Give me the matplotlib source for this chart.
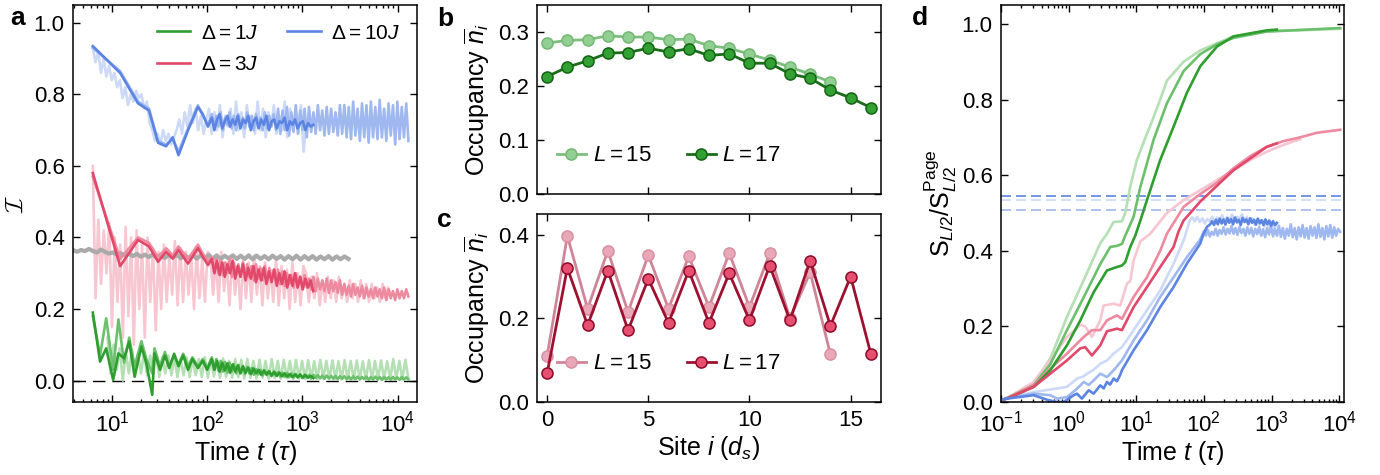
import numpy as np
import matplotlib
matplotlib.use('Agg')
import matplotlib.pyplot as plt
from matplotlib.ticker import LogLocator, NullFormatter, FormatStrFormatter

plt.rcParams['font.family'] = ['Liberation Sans', 'DejaVu Sans']
plt.rcParams['mathtext.fontset'] = 'custom'
plt.rcParams['mathtext.rm'] = 'Liberation Sans'
plt.rcParams['mathtext.it'] = 'Liberation Sans:italic'
plt.rcParams['mathtext.bf'] = 'Liberation Sans:bold'
plt.rcParams['mathtext.cal'] = 'cmsy10'
plt.rcParams['axes.linewidth'] = 1.1

# ---------------- panel a : imbalance vs time ----------------
t_early = [6.3, 12.2, 18.8, 24.5, 30.5, 37, 43.5, 50, 63, 80, 90, 102]
t_early_g = [6.3, 7.5, 8.7, 10.3, 11.7, 13.4, 15.2, 17.3, 20.4, 23, 26.5, 28,
             32, 36, 40, 45, 50, 56, 63, 70, 80, 90, 100]

blue_dark_early = [0.935, 0.86, 0.775, 0.755, 0.665, 0.655, 0.68, 0.63, 0.70, 0.765, 0.745, 0.71]
blue_dark_late = [0.735, 0.70, 0.73, 0.745, 0.705, 0.725, 0.74, 0.71, 0.73, 0.715, 0.74, 0.705,
                  0.73, 0.72, 0.74, 0.70, 0.725, 0.735, 0.705, 0.73, 0.715, 0.74, 0.70, 0.725,
                  0.73, 0.705, 0.725, 0.72, 0.735, 0.70, 0.725, 0.715, 0.73, 0.705, 0.72, 0.725,
                  0.70, 0.72, 0.71, 0.715]
blue_mid_early = [0.93, 0.865, 0.78, 0.76, 0.67, 0.66, 0.675, 0.64, 0.705, 0.77, 0.74, 0.715]
blue_mid_late = [0.745, 0.705, 0.74, 0.71, 0.75, 0.70, 0.735, 0.715, 0.75, 0.705, 0.74, 0.70,
                 0.745, 0.71, 0.735, 0.705, 0.75, 0.71, 0.74, 0.70, 0.745, 0.715, 0.735, 0.70,
                 0.75, 0.705, 0.74, 0.71, 0.745, 0.70,
                 0.76, 0.69, 0.755, 0.70, 0.765, 0.685, 0.75, 0.695, 0.77, 0.69, 0.755, 0.70,
                 0.76, 0.68, 0.765, 0.695, 0.75, 0.69, 0.77, 0.70, 0.755, 0.685, 0.765, 0.69,
                 0.76, 0.695, 0.75, 0.685, 0.77, 0.69,
                 0.77, 0.68, 0.765, 0.675, 0.78, 0.685, 0.76, 0.67, 0.775, 0.68, 0.77, 0.665,
                 0.78, 0.68, 0.765, 0.675, 0.785, 0.68, 0.76, 0.67, 0.775, 0.685, 0.77, 0.66,
                 0.78, 0.675, 0.765, 0.68, 0.775, 0.67]
blue_pale = [0.93, 0.89, 0.92, 0.86, 0.90, 0.85, 0.88, 0.84, 0.86, 0.82,
             0.84, 0.79, 0.82, 0.77, 0.80, 0.78, 0.81, 0.79,
             0.80, 0.76, 0.78, 0.72, 0.70, 0.67,
             0.69, 0.66, 0.70, 0.67, 0.69, 0.66, 0.68, 0.70,
             0.73, 0.69, 0.75, 0.71, 0.77, 0.72, 0.76, 0.70, 0.74, 0.69, 0.73,
             0.76, 0.69, 0.75, 0.70, 0.77, 0.68, 0.74, 0.71, 0.76, 0.69, 0.78, 0.70,
             0.75, 0.68, 0.77, 0.71, 0.74, 0.69, 0.78, 0.70, 0.76, 0.68, 0.75, 0.71,
             0.77, 0.69, 0.74, 0.70, 0.78, 0.68, 0.76, 0.70, 0.75, 0.69, 0.77, 0.64, 0.72]

red_dark_early = [0.58, 0.32, 0.393, 0.375, 0.332, 0.36, 0.341, 0.365, 0.327, 0.37, 0.346, 0.323]
red_dark_late = [0.34, 0.30, 0.335, 0.295, 0.33, 0.29, 0.325, 0.30, 0.335, 0.285, 0.32, 0.29,
                 0.325, 0.28, 0.315, 0.285, 0.32, 0.275, 0.31, 0.28, 0.315, 0.27, 0.305, 0.275,
                 0.31, 0.265, 0.30, 0.27, 0.305, 0.26, 0.295, 0.265, 0.30, 0.26, 0.29, 0.255,
                 0.285, 0.26, 0.28, 0.25]
red_mid_early = [0.57, 0.34, 0.40, 0.385, 0.345, 0.37, 0.35, 0.375, 0.34, 0.38, 0.355, 0.335]
red_mid_late = [0.345, 0.305, 0.34, 0.30, 0.335, 0.295, 0.33, 0.30, 0.34, 0.29, 0.33, 0.295,
                0.325, 0.29, 0.33, 0.285, 0.325, 0.29, 0.32, 0.28, 0.325, 0.285, 0.315, 0.28,
                0.32, 0.275, 0.315, 0.28, 0.31, 0.275,
                0.31, 0.27, 0.305, 0.265, 0.30, 0.27, 0.295, 0.26, 0.30, 0.265, 0.29, 0.255,
                0.295, 0.26, 0.285, 0.255, 0.29, 0.25, 0.285, 0.255, 0.28, 0.25, 0.285, 0.245,
                0.28, 0.25, 0.275, 0.245, 0.28, 0.24,
                0.27, 0.24, 0.265, 0.235, 0.27, 0.24, 0.26, 0.235, 0.265, 0.23, 0.26, 0.235,
                0.255, 0.23, 0.26, 0.235, 0.255, 0.23, 0.26, 0.225, 0.255, 0.23, 0.25, 0.225,
                0.255, 0.23, 0.25, 0.23, 0.255, 0.235]
red_pale = [0.60, 0.23, 0.45, 0.27, 0.42, 0.30, 0.44, 0.15, 0.40, 0.22,
            0.38, 0.12, 0.43, 0.18, 0.40, 0.10, 0.42, 0.20,
            0.38, 0.12, 0.40, 0.22, 0.37, 0.14,
            0.36, 0.20, 0.38, 0.22, 0.35, 0.24, 0.39, 0.21,
            0.37, 0.22, 0.36, 0.24, 0.35, 0.20, 0.37, 0.23, 0.34, 0.22, 0.36,
            0.35, 0.24, 0.34, 0.22, 0.36, 0.25, 0.33, 0.21, 0.35, 0.24, 0.32, 0.20,
            0.34, 0.23, 0.33, 0.22, 0.35, 0.24, 0.32, 0.21, 0.33, 0.23, 0.31, 0.22,
            0.34, 0.21, 0.32, 0.23, 0.31, 0.20, 0.33, 0.22, 0.30, 0.21, 0.32,
            0.30, 0.22, 0.29, 0.23, 0.30, 0.21, 0.28, 0.22, 0.29, 0.23, 0.28, 0.22,
            0.29, 0.23, 0.27, 0.22, 0.28, 0.23, 0.27, 0.22, 0.28, 0.23, 0.27, 0.22,
            0.27, 0.23, 0.26, 0.22, 0.27, 0.23, 0.26, 0.24]

gray_vals = [0.365, 0.36, 0.365, 0.362, 0.368, 0.362, 0.358, 0.366, 0.36, 0.355, 0.358, 0.352,
             0.356, 0.35, 0.355, 0.348, 0.354, 0.346, 0.352, 0.345, 0.353, 0.344, 0.352, 0.343,
             0.351, 0.344, 0.352, 0.342, 0.35, 0.343, 0.351, 0.341, 0.35, 0.342, 0.351, 0.341,
             0.35, 0.34, 0.349, 0.341, 0.35, 0.34, 0.349, 0.34, 0.35, 0.339, 0.349, 0.34,
             0.348, 0.339, 0.349, 0.34, 0.348, 0.338, 0.348, 0.339, 0.349, 0.338, 0.348, 0.339,
             0.348, 0.338, 0.347, 0.339, 0.348, 0.338, 0.347, 0.339, 0.347, 0.34]

green_dark_early = [0.19, 0.053, 0.09, 0.002, 0.076, 0.062, 0.109, 0.011, 0.095, 0.048, -0.04, 0.076,
                    0.03, 0.07, 0.035, 0.075, 0.04, 0.07, 0.03, 0.06, 0.035, 0.055, 0.03]
green_dark_late = [0.06, 0.03, 0.055, 0.025, 0.05, 0.028, 0.048, 0.022, 0.045, 0.025, 0.042, 0.02,
                   0.04, 0.022, 0.036, 0.018, 0.034, 0.02, 0.03, 0.016, 0.028, 0.017, 0.026, 0.014,
                   0.024, 0.013, 0.022, 0.012, 0.02, 0.011, 0.018, 0.01, 0.017, 0.009, 0.016, 0.008,
                   0.015, 0.008, 0.013, 0.007]
green_mid_early = [0.18, 0.07, 0.174, 0.03, 0.171, 0.05, 0.12, 0.04, 0.11, 0.06, 0.02, 0.09,
                   0.04, 0.08, 0.04, 0.07, 0.045, 0.075, 0.04, 0.065, 0.04, 0.06, 0.035]
green_mid_late = [0.065, 0.03, 0.06, 0.028, 0.055, 0.025, 0.052, 0.022, 0.05, 0.025, 0.046, 0.02,
                  0.044, 0.022, 0.04, 0.018, 0.038, 0.02, 0.035, 0.016, 0.032, 0.017, 0.03, 0.014,
                  0.028, 0.015, 0.026, 0.012, 0.025, 0.013,
                  0.024, 0.011, 0.022, 0.01, 0.021, 0.009, 0.02, 0.008, 0.019, 0.009, 0.018, 0.007,
                  0.017, 0.008, 0.016, 0.006, 0.016, 0.007, 0.015, 0.006, 0.014, 0.005, 0.014, 0.006,
                  0.013, 0.005, 0.013, 0.004, 0.012, 0.005,
                  0.012, 0.004, 0.011, 0.003, 0.012, 0.004, 0.011, 0.003, 0.01, 0.004, 0.011, 0.002,
                  0.01, 0.003, 0.011, 0.003, 0.01, 0.002, 0.01, 0.003, 0.009, 0.002, 0.01, 0.003,
                  0.009, 0.002, 0.01, 0.003, 0.009, 0.003]
green_pale = [0.12, 0.02, 0.10, 0.03, 0.09, 0.0, 0.08, 0.02, 0.085, 0.01, 0.075, 0.02, 0.08, 0.015,
              0.07, 0.02, 0.075, 0.01, 0.065, 0.02, 0.07, 0.015, 0.065, 0.01, 0.06, 0.015, 0.065,
              0.01, 0.06, 0.015, 0.06, 0.01, 0.065, 0.008, 0.06, 0.012, 0.058, 0.008, 0.062, 0.01,
              0.055, 0.008, 0.06, 0.01, 0.058, 0.006, 0.06, 0.008, 0.055, 0.006, 0.058, 0.008,
              0.055, 0.005, 0.06, 0.007, 0.055, 0.005, 0.058, 0.006, 0.055, 0.004, 0.058, 0.006,
              0.055, 0.004, 0.057, 0.005, 0.054, 0.004, 0.058, 0.005, 0.055, 0.004, 0.056, 0.005,
              0.054, 0.003, 0.057, 0.004, 0.055, 0.003, 0.056, 0.004, 0.054, 0.003, 0.057, 0.004,
              0.055, 0.003, 0.056, 0.004, 0.054, 0.003, 0.06, 0.004, 0.055, 0.003, 0.058, 0.005]

# ---------------- panels b, c : site occupancies ----------------
occ_b_L15 = [0.2795, 0.2845, 0.2857, 0.293, 0.2907, 0.2907, 0.2857, 0.287, 0.2745, 0.270,
             0.259, 0.248, 0.235, 0.222, 0.2075]
occ_b_L17 = [0.2174, 0.235, 0.2466, 0.261, 0.262, 0.270, 0.263, 0.269, 0.2565, 0.2596, 0.2422,
             0.2422, 0.2224, 0.2143, 0.1925, 0.178, 0.160]
occ_c_L15 = [0.110, 0.3976, 0.2234, 0.362, 0.2154, 0.3517, 0.2234, 0.3485, 0.2273, 0.3564,
             0.2273, 0.3556, 0.200, 0.3105, 0.114]
occ_c_L17 = [0.0689, 0.3208, 0.1838, 0.3145, 0.1719, 0.2947, 0.1893, 0.3145, 0.1893, 0.3081,
             0.1956, 0.3263, 0.1956, 0.3382, 0.1822, 0.3002, 0.1149]

# ---------------- panel d : half-chain entropy ----------------
d_green_dark_t = [0.1, 0.123, 0.304, 0.536, 0.945, 1.49, 2.34, 3.69, 5.18, 6.14, 6.88, 8.15, 9.67,
                  11.5, 14.4, 22.6, 35.6, 56.1, 88.3, 156, 274, 853, 1200]
d_green_dark = [0.005, 0.009, 0.04, 0.084, 0.15, 0.216, 0.29, 0.348, 0.357, 0.361, 0.37, 0.41, 0.44,
                0.48, 0.534, 0.64, 0.728, 0.818, 0.888, 0.94, 0.967, 0.983, 0.985]
d_green_mid_t = [0.1, 0.123, 0.304, 0.536, 0.945, 1.67, 2.94, 4.13, 5.18, 6.14, 6.88, 9.14, 11.5,
                 18.0, 28.4, 50.1, 88.3, 156, 274, 853, 10350]
d_green_mid = [0.005, 0.01, 0.045, 0.1, 0.19, 0.277, 0.365, 0.41, 0.413, 0.418, 0.44, 0.49, 0.569,
               0.693, 0.79, 0.875, 0.92, 0.946, 0.963, 0.98, 0.989]
d_green_pale_t = [0.1, 0.123, 0.304, 0.536, 0.945, 1.67, 2.94, 3.69, 4.63, 6.14, 6.88, 8.15, 10.2,
                  14.4, 16.1, 22.6, 28.4, 50.1, 88.3, 274, 853, 10350]
d_green_pale = [0.005, 0.01, 0.05, 0.115, 0.225, 0.322, 0.42, 0.445, 0.476, 0.478, 0.5, 0.57, 0.64,
                0.71, 0.73, 0.8, 0.85, 0.90, 0.93, 0.967, 0.98, 0.987]

d_red_dark_t = [0.1, 0.123, 0.304, 0.536, 0.945, 1.49, 1.76, 2.21, 2.94, 3.69, 5.18, 6.14, 9.14,
                14.4, 22.6, 35.6, 42, 50.1, 62.9, 88.3, 124, 174, 274, 484, 853, 1200]
d_red_dark = [0.005, 0.009, 0.04, 0.075, 0.11, 0.142, 0.145, 0.123, 0.15, 0.187, 0.194, 0.19, 0.251,
              0.304, 0.357, 0.41, 0.45, 0.48, 0.50, 0.53, 0.555, 0.58, 0.613, 0.644, 0.675, 0.684]
d_red_mid_t = [0.1, 0.123, 0.304, 0.536, 0.945, 1.67, 2.21, 2.94, 3.69, 5.18, 6.14, 9.14, 14.4,
               22.6, 28.4, 50.1, 88.3, 156, 274, 484, 853, 1500, 2650, 4680, 10350]
d_red_mid = [0.005, 0.01, 0.045, 0.088, 0.128, 0.172, 0.19, 0.19, 0.216, 0.229, 0.22, 0.278, 0.33,
             0.40, 0.445, 0.516, 0.55, 0.58, 0.618, 0.65, 0.675, 0.69, 0.70, 0.712, 0.72]
d_red_pale_t = [0.1, 0.123, 0.304, 0.536, 0.945, 1.49, 1.76, 2.21, 2.94, 3.29, 4.63, 5.80, 7.28,
                8.15, 9.14, 11.5, 16.1, 28.4, 50.1, 88.3, 156, 274, 484, 853, 1500, 2650]
d_red_pale = [0.005, 0.01, 0.053, 0.11, 0.172, 0.204, 0.2, 0.172, 0.216, 0.255, 0.26, 0.255, 0.313,
              0.32, 0.375, 0.425, 0.445, 0.5, 0.534, 0.56, 0.587, 0.613, 0.64, 0.662, 0.68, 0.695]

d_blue_dark_t = [0.1, 0.123, 0.304, 0.479, 0.673, 0.844, 1.19, 1.33, 1.57, 1.98, 2.34, 2.94, 3.3,
                 3.69, 4.1, 4.63, 5.18, 5.8, 6.14, 9.14, 14.4, 22.6, 35.6, 56.1, 88.3, 98.9, 111]
d_blue_dark = [0.005, 0.009, 0.018, 0.006, 0.0, 0.0, 0.018, 0.022, 0.009, 0.031, 0.022, 0.044, 0.036,
               0.053, 0.046, 0.062, 0.055, 0.072, 0.084, 0.137, 0.19, 0.251, 0.304, 0.366, 0.419,
               0.445, 0.463]
d_blue_dark_late = [0.47, 0.478, 0.468, 0.482, 0.47, 0.485, 0.472, 0.483, 0.469, 0.486, 0.474, 0.484,
                    0.47, 0.488, 0.475, 0.482, 0.468, 0.487, 0.476, 0.483, 0.47, 0.486, 0.474, 0.482,
                    0.469, 0.485, 0.473, 0.481, 0.468, 0.483, 0.47, 0.48, 0.466, 0.478, 0.468, 0.474]
d_blue_mid_t = [0.1, 0.123, 0.304, 0.536, 0.673, 0.945, 1.33, 1.67, 1.98, 2.34, 2.94, 3.69, 4.63,
                6.14, 9.14, 14.4, 22.6, 35.6, 56.1, 88.3]
d_blue_mid = [0.005, 0.01, 0.022, 0.018, 0.009, 0.013, 0.035, 0.053, 0.045, 0.057, 0.075, 0.066,
              0.084, 0.11, 0.163, 0.216, 0.278, 0.33, 0.383, 0.43]
d_blue_mid_late = [0.452, 0.44, 0.455, 0.438, 0.45, 0.442, 0.458, 0.44, 0.455, 0.445, 0.462, 0.443,
                   0.458, 0.446, 0.465, 0.445, 0.46, 0.442, 0.463, 0.447, 0.458, 0.44, 0.462, 0.445,
                   0.46, 0.438, 0.458, 0.444, 0.462, 0.44, 0.457, 0.436, 0.46, 0.443, 0.465, 0.438,
                   0.458, 0.44, 0.466, 0.437, 0.46, 0.432, 0.458, 0.44, 0.47, 0.436, 0.46, 0.43,
                   0.462, 0.438, 0.468, 0.435, 0.46, 0.432, 0.465, 0.44, 0.462, 0.434, 0.47, 0.437,
                   0.46, 0.43, 0.465, 0.438, 0.468, 0.435, 0.462, 0.44, 0.458, 0.45]
d_blue_pale_t = [0.1, 0.123, 0.304, 0.536, 0.945, 1.33, 1.67, 1.87, 2.34, 2.94, 3.69, 4.63, 6.14,
                 9.14, 14.4, 22.6, 35.6, 50.1]
d_blue_pale = [0.005, 0.012, 0.026, 0.033, 0.04, 0.062, 0.068, 0.075, 0.085, 0.101, 0.11, 0.128,
               0.145, 0.19, 0.243, 0.295, 0.366, 0.427]
d_blue_pale_late = [0.48, 0.488, 0.478, 0.49, 0.476, 0.486, 0.472, 0.484, 0.478, 0.49, 0.475, 0.488,
                    0.48, 0.494, 0.476, 0.49, 0.482, 0.496, 0.478, 0.49, 0.484, 0.497, 0.478, 0.49,
                    0.474, 0.486, 0.47, 0.482, 0.468, 0.48, 0.464, 0.478, 0.462, 0.476, 0.46, 0.47]
page_levels = [0.544, 0.533, 0.509]

# colours
G = ['#2e9e2e', '#6cc06c', '#b4e0b4']
R = ['#e2486a', '#ee8aa0', '#f7c6d1']
B = ['#5b84e3', '#a0b8f0', '#ccdaf7']
GRAY = '#aaaaaa'


def grid(t_head, t0, t1, tail):
    return np.concatenate([t_head, np.geomspace(t0, t1, len(tail))])


def style(ax, logx=False):
    ax.tick_params(which='both', direction='in', top=True, right=True, labelsize=16, width=1)
    ax.tick_params(which='major', length=5, pad=6)
    ax.tick_params(which='minor', length=2.5)
    if logx:
        ax.set_xscale('log')
        ax.xaxis.set_major_locator(LogLocator(base=10))
        ax.xaxis.set_minor_locator(LogLocator(base=10, subs=np.arange(2, 10)))
        ax.xaxis.set_minor_formatter(NullFormatter())


W, H = 1380, 475
fig = plt.figure(figsize=(W / 100, H / 100), dpi=100)
ax_a = fig.add_axes([73 / W, 1 - 402 / H, 344 / W, 397 / H])
ax_b = fig.add_axes([537 / W, 1 - 194 / H, 344 / W, 189 / H])
ax_c = fig.add_axes([537 / W, 1 - 402 / H, 344 / W, 188 / H])
ax_d = fig.add_axes([1001 / W, 1 - 402 / H, 343 / W, 397 / H])

# ---- a ----
lw = 1.9
ax_a.axhline(0, color='k', lw=1, dashes=(9, 5), zorder=1)
ax_a.plot(np.geomspace(6.3, 1100, len(blue_pale)), blue_pale, color=B[2], lw=lw)
ax_a.plot(np.geomspace(6.3, 8500, len(red_pale)), red_pale, color=R[2], lw=lw)
ax_a.plot(np.geomspace(9, 13000, len(green_pale)), green_pale, color=G[2], lw=lw)
ax_a.plot(np.geomspace(3.9, 3050, len(gray_vals)), gray_vals, color=GRAY, lw=3)
ax_a.plot(grid(t_early, 112, 13000, blue_mid_late), blue_mid_early + blue_mid_late, color=B[1], lw=lw)
ax_a.plot(grid(t_early, 112, 13000, red_mid_late), red_mid_early + red_mid_late, color=R[1], lw=lw)
ax_a.plot(grid(t_early_g, 112, 13000, green_mid_late), green_mid_early + green_mid_late, color=G[1], lw=lw)
ax_a.plot(grid(t_early_g, 112, 1300, green_dark_late), green_dark_early + green_dark_late,
          color=G[0], lw=lw, label=r'$\Delta=1J$')
ax_a.plot(grid(t_early, 112, 1300, red_dark_late), red_dark_early + red_dark_late,
          color=R[0], lw=lw, label=r'$\Delta=3J$')
ax_a.plot(grid(t_early, 112, 1300, blue_dark_late), blue_dark_early + blue_dark_late,
          color=B[0], lw=lw, label=r'$\Delta=10J$')
style(ax_a, logx=True)
ax_a.set_xlim(3.9, 1.6e4)
ax_a.set_ylim(-0.06, 1.05)
ax_a.set_yticks([0, 0.2, 0.4, 0.6, 0.8, 1.0])
ax_a.yaxis.set_major_formatter(FormatStrFormatter('%.1f'))
ax_a.set_xlabel(r'Time $t$ ($\tau$)', fontsize=18, labelpad=2)
ax_a.set_ylabel(r'$\mathcal{I}$', fontsize=18, labelpad=4)
ax_a.legend(loc='upper left', bbox_to_anchor=(0.19, 1.0), ncol=2, frameon=False, fontsize=15,
            handlelength=1.6, handletextpad=0.5, columnspacing=1.4, labelspacing=0.6)

# ---- b ----
sites15 = np.arange(len(occ_b_L15))
sites17 = np.arange(len(occ_b_L17))
ax_b.plot(sites15, occ_b_L15, '-o', color='#7cbf7c', mfc='#92cf92', mec='#74b874', ms=8, lw=2,
          mew=1.1, label=r'$L=15$')
ax_b.plot(sites17, occ_b_L17, '-o', color='#1a6e1a', mfc='#33a033', mec='#146414', ms=8, lw=2,
          mew=1.1, label=r'$L=17$')
style(ax_b)
ax_b.set_xlim(-0.5, 16.5)
ax_b.set_ylim(0, 0.35)
ax_b.set_xticks([0, 5, 10, 15])
ax_b.set_xticklabels([])
ax_b.set_yticks([0, 0.1, 0.2, 0.3])
ax_b.yaxis.set_major_formatter(FormatStrFormatter('%.1f'))
ax_b.set_ylabel(r'Occupancy $\overline{n}_i$', fontsize=18, labelpad=4)
ax_b.legend(loc='lower left', bbox_to_anchor=(0.0, 0.04), ncol=2, frameon=False, fontsize=16,
            handlelength=1.3, handletextpad=0.3, columnspacing=1.6)

# ---- c ----
ax_c.plot(np.arange(len(occ_c_L15)), occ_c_L15, '-o', color='#cf8497', mfc='#e9a8b8', mec='#d890a2',
          ms=8, lw=2, mew=1.1, label=r'$L=15$')
ax_c.plot(np.arange(len(occ_c_L17)), occ_c_L17, '-o', color='#9e1030', mfc='#e64f6f', mec='#8c0c2a',
          ms=8, lw=2, mew=1.1, label=r'$L=17$')
style(ax_c)
ax_c.set_xlim(-0.5, 16.5)
ax_c.set_ylim(0, 0.45)
ax_c.set_xticks([0, 5, 10, 15])
ax_c.set_yticks([0, 0.2, 0.4])
ax_c.yaxis.set_major_formatter(FormatStrFormatter('%.1f'))
ax_c.set_xlabel(r'Site $i$ ($d_s$)', fontsize=18, labelpad=2)
ax_c.set_ylabel(r'Occupancy $\overline{n}_i$', fontsize=18, labelpad=4)
ax_c.legend(loc='lower left', bbox_to_anchor=(0.0, 0.04), ncol=2, frameon=False, fontsize=16,
            handlelength=1.3, handletextpad=0.3, columnspacing=1.6)

# ---- d ----
for lev, col in zip(page_levels, [B[0], B[2], B[1]]):
    ax_d.axhline(lev, color=col, lw=1.2, dashes=(6, 3))
ax_d.plot(d_green_pale_t, d_green_pale, color=G[2], lw=lw)
ax_d.plot(d_red_pale_t, d_red_pale, color=R[2], lw=lw)
ax_d.plot(grid(d_blue_pale_t, 62, 1200, d_blue_pale_late), d_blue_pale + d_blue_pale_late, color=B[2], lw=lw)
ax_d.plot(d_green_mid_t, d_green_mid, color=G[1], lw=lw)
ax_d.plot(d_red_mid_t, d_red_mid, color=R[1], lw=lw)
ax_d.plot(grid(d_blue_mid_t, 100, 10350, d_blue_mid_late), d_blue_mid + d_blue_mid_late, color=B[1], lw=lw)
ax_d.plot(d_green_dark_t, d_green_dark, color=G[0], lw=lw)
ax_d.plot(d_red_dark_t, d_red_dark, color=R[0], lw=lw)
ax_d.plot(grid(d_blue_dark_t, 124, 1200, d_blue_dark_late), d_blue_dark + d_blue_dark_late, color=B[0], lw=lw)
style(ax_d, logx=True)
ax_d.set_xlim(0.1, 1.18e4)
ax_d.set_ylim(0, 1.05)
ax_d.set_yticks([0, 0.2, 0.4, 0.6, 0.8, 1.0])
ax_d.yaxis.set_major_formatter(FormatStrFormatter('%.1f'))
ax_d.set_xlabel(r'Time $t$ ($\tau$)', fontsize=18, labelpad=2)
ax_d.set_ylabel(r'$\mathrm{S}_{L/2}/\mathrm{S}_{L/2}^{\mathrm{Page}}$', fontsize=18, labelpad=2)

for x, y, s in [(10, 25, 'a'), (437, 26, 'b'), (437, 227, 'c'), (912, 25, 'd')]:
    fig.text(x / W, 1 - y / H, s, fontsize=19, fontweight='bold', va='baseline')

fig.savefig('out.png', dpi=100)
